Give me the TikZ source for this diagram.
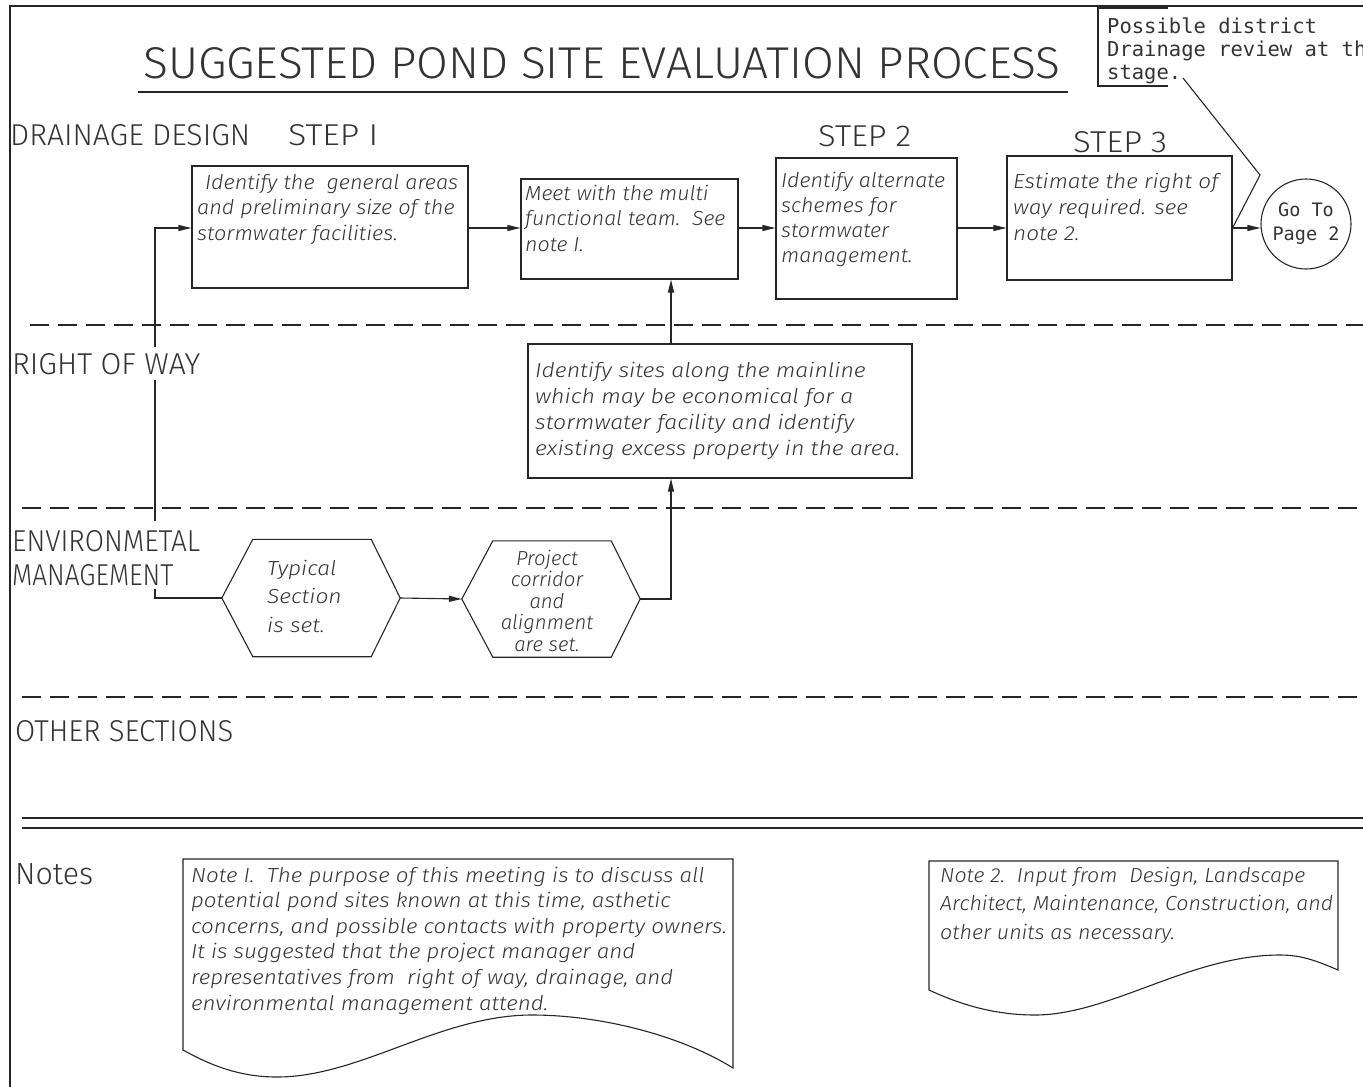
\documentclass[tikz,border=0pt]{standalone}
\usepackage{fontspec}
\usepackage{graphicx}
\setmainfont{Liberation Sans}
\newfontfamily\cadmono{DejaVu Sans Mono}
\IfFontExistsTF{Fira Sans Light}
  {\newfontfamily\cadhead{Fira Sans Light}}
  {\newfontfamily\cadhead{Liberation Sans}}
\IfFontExistsTF{Fira Sans Light Italic}
  {\newfontfamily\cadit{Fira Sans Light Italic}[FakeStretch=1.09]}
  {\newfontfamily\cadit{Liberation Sans Italic}[FakeStretch=1.10]}
\usetikzlibrary{arrows.meta,calc}

\definecolor{ink}{gray}{0.15}
\definecolor{textink}{gray}{0.2}
% heading text squeezed into an exact box: width, cap height, text
\newcommand{\fitto}[3]{\resizebox{#1pt}{#2pt}{\cadhead #3}}
\newcommand{\rowsL}[1]{\begin{tabular}[t]{@{}l@{}}#1\end{tabular}}
\newcommand{\rowsC}[1]{\begin{tabular}[t]{@{}c@{}}#1\end{tabular}}
% horizontal squeeze or stretch of a text block
\newcommand{\sx}[2]{\scalebox{#1}[1]{#2}}

\tikzset{
  line/.style={draw=ink, line width=1.1pt},
  flow/.style={draw=ink, line width=1.1pt, -{Triangle[length=13pt,width=6pt]}},
  stepbox/.style={draw=ink, line width=1.1pt, inner sep=0, fill=white},
  lanedash/.style={draw=ink, line width=1.1pt, dash pattern=on 19pt off 9pt},
  head/.style={anchor=base west, inner sep=0, text=textink},
  maskhead/.style={head, fill=white, inner ysep=6pt},
  boxtext/.style={anchor=base west, inner sep=0, text=textink,
    font=\cadit\fontsize{20.3}{#1}\selectfont},
  boxtext/.default=25.5,
  monotext/.style={inner sep=0, text=textink, font=\cadmono},
}

\begin{document}
\begin{tikzpicture}[x=1pt,y=-1pt]
\useasboundingbox (0,0) rectangle (1363,1087);
\clip (0,0) rectangle (1363,1087);

% sheet border
\draw[line] (10,1087) -- (10,6) -- (1363,6);

% title
\node[head] (title) at (143,78) {\fitto{917}{31}{SUGGESTED POND SITE EVALUATION PROCESS}};
\draw[line] (138,92) -- (1068,92);

% lane separators
\draw[lanedash] (30,325) -- (1363,325);
\draw[lanedash] (22,508) -- (1363,508);
\draw[lanedash] (22,697) -- (1363,697);
\draw[line] (22,818) -- (1363,818);
\draw[line] (22,828) -- (1363,828);

% process boxes
\node[stepbox, minimum width=276pt, minimum height=122pt] (b1) at (330,227) {};
\node[stepbox, minimum width=217pt, minimum height=100pt] (b2) at (629.5,229) {};
\node[stepbox, minimum width=181pt, minimum height=141pt] (b3) at (866.5,228.5) {};
\node[stepbox, minimum width=225pt, minimum height=124pt] (b4) at (1119.5,218) {};
\node[stepbox, minimum width=384pt, minimum height=134pt] (b5) at (720,411) {};
\node[draw=ink, line width=1.1pt, circle, minimum size=90pt, inner sep=0,
      align=center, text=textink, font=\cadmono\fontsize{18.5}{24}\selectfont]
      (goto) at (1306,224) {Go To\\Page 2};

% hexagonal preparation steps
\node[minimum width=178pt, minimum height=117pt, inner sep=0] (hx1) at (311,598) {};
\node[minimum width=178pt, minimum height=116pt, inner sep=0] (hx2) at (551,599) {};
\foreach \h in {hx1,hx2}{
  \draw[line] (\h.west) -- ($(\h.north west)+(31,0)$) -- ($(\h.north east)+(-29,0)$)
    -- (\h.east) -- ($(\h.south east)+(-29,0)$) -- ($(\h.south west)+(31,0)$) -- cycle;
}

% box texts
\node[boxtext] (t1) at (197,189) {\sx{0.98}{\rowsL{\hspace{8pt}Identify the\ \ general areas\\and preliminary size of the\\stormwater facilities.}}};
\node[boxtext] (t2) at (525,200) {\sx{0.965}{\rowsL{Meet with the multi\\functional team.\ \ See\\note I.}}};
\node[boxtext=25.3] (t3) at (781,187) {\sx{0.97}{\rowsL{Identify alternate\\schemes for\\stormwater\\management.}}};
\node[boxtext=26] (t4) at (1013,188) {\sx{1.02}{\rowsL{Estimate the right of\\way required. see\\note 2.}}};
\node[boxtext=26] (t5) at (535,377) {\sx{1.04}{\rowsL{Identify sites along the mainline\\which may be economical for a\\stormwater facility and identify\\existing excess property in the area.}}};
\node[boxtext=28.5] (th1) at (267,575) {\sx{1.03}{\rowsL{Typical\\Section\\is set.}}};
\node[boxtext=21.3, anchor=base] (th2) at (547,565) {\sx{0.92}{\rowsC{Project\\corridor\\and\\alignment\\are set.}}};

% connectors
\coordinate (fy) at (0,228);
\coordinate (xl) at (155,0);
\coordinate (xv) at (671,0);
\draw[flow] (hx1.west) -- (hx1.west -| xl) -- (xl |- fy) -- (b1.west |- fy);
\draw[flow] (b1.east |- fy) -- (b2.west |- fy);
\draw[flow] (b2.east |- fy) -- (b3.west |- fy);
\draw[flow] (b3.east |- fy) -- (b4.west |- fy);
\draw[flow] (b4.east |- fy) -- (goto.west |- fy);
\draw[flow] (b5.north -| xv) -- (b2.south -| xv);
\draw[flow] (hx1.east) -- (hx2.west);
\draw[flow] (hx2.east) -- (hx2.east -| xv) -- (b5.south -| xv);

% district review callout
\draw[line] (1168,8) -- (1098,8) -- (1098,86) -- (1168,86);
\node[monotext, anchor=base west] (review) at (1107,33)
  {\fontsize{20.5}{23}\selectfont\rowsL{Possible district\\Drainage review at this\\stage.}};
\coordinate (c1) at (1183,78);
\coordinate (c2) at (1260,175);
\draw[line] (c1) -- (c2) -- (b4.east |- fy);

% notes (document shapes)
\draw[line] (183,859) -- (733,859) -- (733,1068)
  .. controls (680,1035) and (600,1015) .. (532,1015)
  .. controls (440,1015) and (360,1077) .. (277,1077)
  .. controls (235,1077) and (205,1062) .. (183,1050) -- cycle;
\draw[line] (929,861) -- (1338,861) -- (1338,970)
  .. controls (1315,960) and (1300,955) .. (1280,955)
  .. controls (1190,955) and (1110,1015) .. (1035,1015)
  .. controls (990,1015) and (955,1002) .. (929,990) -- cycle;
\node[boxtext=25.6] (n1) at (191,882) {\sx{1.01}{\rowsL{Note I.\ \ The purpose of this meeting is to discuss all\\potential pond sites known at this time, asthetic\\concerns, and possible contacts with property owners.\\It is suggested that the project manager and\\representatives from\ \ right of way, drainage, and\\environmental management attend.}}};
\node[boxtext=28.5] (n2) at (940,882) {\sx{0.967}{\rowsL{Note 2.\ \ Input from\ \ Design, Landscape\\Architect, Maintenance, Construction, and\\other units as necessary.}}};

% lane and column headings
\node[head] (drain) at (10,145) {\fitto{240}{21}{DRAINAGE DESIGN}};
\node[head] (step1) at (288,145) {\fitto{90}{21}{STEP I}};
\node[head] (step2) at (818,146) {\fitto{93}{21}{STEP 2}};
\node[head] (step3) at (1073,152) {\fitto{94}{21}{STEP 3}};
\node[maskhead] (row) at (12,374) {\fitto{188}{21}{RIGHT OF WAY}};
\node[maskhead, inner ysep=9pt] (env1) at (12,551) {\fitto{188}{21}{ENVIRONMETAL}};
\node[maskhead, inner ysep=4pt] (env2) at (12,585) {\fitto{161}{21}{MANAGEMENT}};
\node[head] (other) at (15,741) {\fitto{218}{21}{OTHER SECTIONS}};
\node[head] (notes) at (15,884) {\fitto{78}{21}{Notes}};
\end{tikzpicture}
\end{document}
